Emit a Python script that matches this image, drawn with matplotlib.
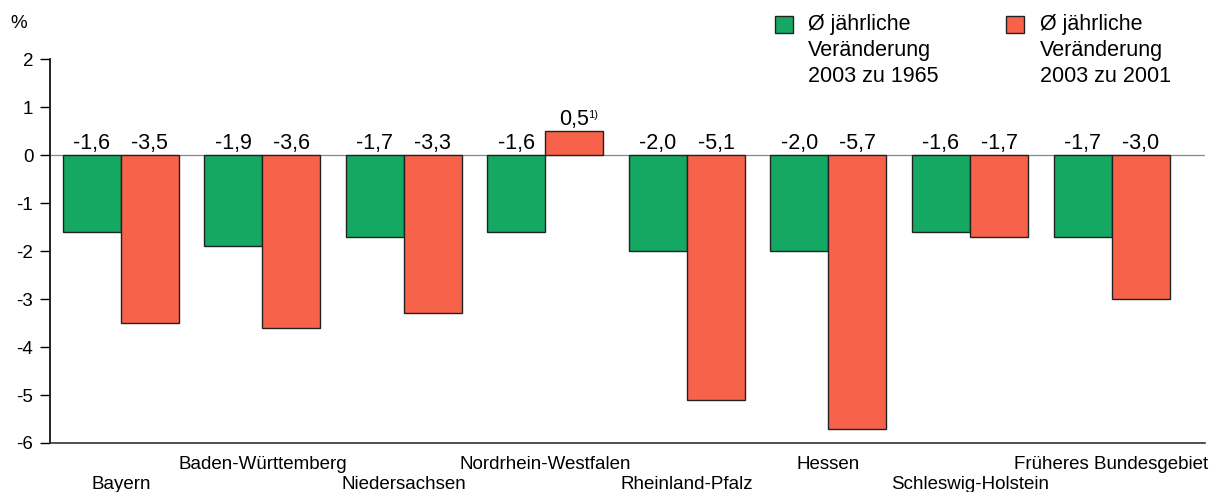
import matplotlib
matplotlib.use("Agg")
import matplotlib.pyplot as plt
import numpy as np

plt.rcParams["font.family"] = ["Liberation Sans", "DejaVu Sans"]

# Data
laender = ["Bayern", "Baden-Württemberg", "Niedersachsen", "Nordrhein-Westfalen",
           "Rheinland-Pfalz", "Hessen", "Schleswig-Holstein", "Früheres Bundesgebiet"]
chg_1965 = [-1.6, -1.9, -1.7, -1.6, -2.0, -2.0, -1.6, -1.7]
chg_2001 = [-3.5, -3.6, -3.3, 0.5, -5.1, -5.7, -1.7, -3.0]
label_1965 = "Ø jährliche\nVeränderung\n2003 zu 1965"
label_2001 = "Ø jährliche\nVeränderung\n2003 zu 2001"

green = "#14a862"
red = "#f7624a"

fig = plt.figure(figsize=(12.11, 4.92), dpi=100)
ax = fig.add_axes([0.0413, 0.0996, 0.9537, 0.7804])

x = np.arange(len(laender))
w = 0.41
ax.bar(x - w / 2, chg_1965, w, color=green, edgecolor="#222222", linewidth=1.0, zorder=3)
ax.bar(x + w / 2, chg_2001, w, color=red, edgecolor="#222222", linewidth=1.0, zorder=3)

ax.axhline(0, color="#888888", lw=0.9, zorder=2)

def fmt(v):
    return f"{v:.1f}".replace(".", ",")

vfs = 15.5
for xi, v in zip(x, chg_1965):
    ax.text(xi - w / 2, 0.02, fmt(v), ha="center", va="bottom", fontsize=vfs)
for xi, v in zip(x, chg_2001):
    if v > 0:
        ax.text(xi + w / 2, v + 0.02, fmt(v), ha="center", va="bottom", fontsize=vfs)
        ax.text(xi + w / 2 + 0.095, v + 0.24, "1)", ha="left", va="bottom", fontsize=8)
    else:
        ax.text(xi + w / 2, 0.02, fmt(v), ha="center", va="bottom", fontsize=vfs)

ax.set_xlim(-0.5, 7.66)
ax.set_ylim(-6, 2)
ax.set_yticks(range(-6, 3))
ax.set_yticklabels([str(t) for t in range(-6, 3)])
ax.tick_params(axis="y", direction="out", length=7, width=1, labelsize=13.5, pad=5)
ax.set_xticks([])

for s in ["top", "right"]:
    ax.spines[s].set_visible(False)
ax.spines["left"].set_linewidth(1.2)
ax.spines["bottom"].set_linewidth(1.2)
ax.spines["bottom"].set_color("#333333")

# alternating category labels
for i, name in enumerate(laender):
    y = -6.44 if i % 2 else -6.86
    ax.text(x[i], y, name, ha="center", va="center", fontsize=13.5, clip_on=False)

fig.text(0.0083, 0.952, "%", fontsize=13.5, va="center")

# legend
fig.patches.append(plt.Rectangle((775 / 1211, 1 - 33 / 492), 18 / 1211, 17 / 492,
                                 transform=fig.transFigure, facecolor=green,
                                 edgecolor="#222222", lw=1.0))
fig.patches.append(plt.Rectangle((1006 / 1211, 1 - 33 / 492), 18 / 1211, 17 / 492,
                                 transform=fig.transFigure, facecolor=red,
                                 edgecolor="#222222", lw=1.0))
fig.text(808 / 1211, 1 - 14 / 492, label_1965, fontsize=vfs, va="top", ha="left", linespacing=1.3)
fig.text(1040 / 1211, 1 - 14 / 492, label_2001, fontsize=vfs, va="top", ha="left", linespacing=1.3)

fig.savefig("out.png", dpi=100, facecolor="white")
